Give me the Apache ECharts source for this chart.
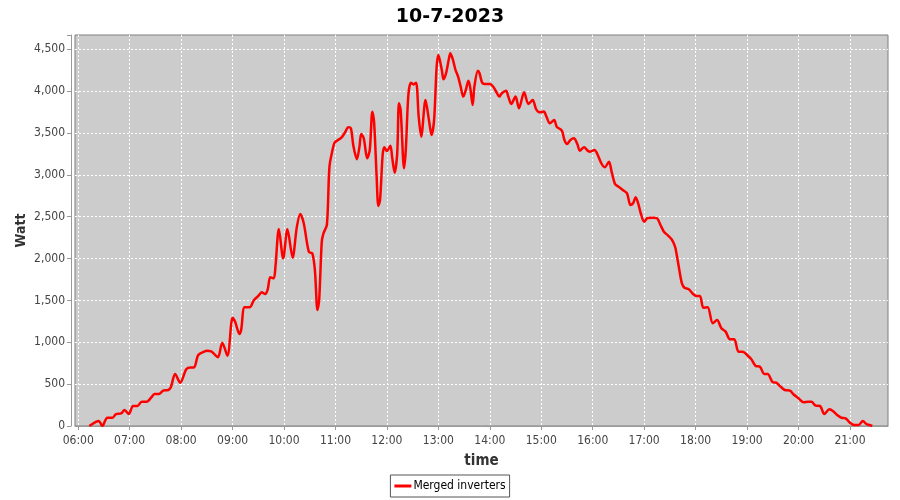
<!DOCTYPE html>
<html>
<head>
<meta charset="utf-8">
<script src="https://cdn.jsdelivr.net/npm/echarts@6/dist/echarts.min.js"></script>
<style>html,body{margin:0;padding:0;background:#fff}#c{width:900px;height:500px}</style>
</head>
<body>
<div id="c"></div>
<script>
const chartTitle = "10-7-2023";
const seriesName = "Merged inverters";
const times = ["06:13","06:24","06:28","06:34","06:40","06:44","06:50","06:54","06:59","07:04","07:09","07:14","07:20","07:25","07:29","07:34","07:39","07:45","07:48","07:53","07:59","08:06","08:11","08:15","08:20","08:27","08:30","08:35","08:39","08:43","08:48","08:54","09:00","09:03","09:08","09:10","09:14","09:20","09:25","09:30","09:34","09:38","09:41","09:44","09:48","09:50","09:54","09:59","10:04","10:10","10:15","10:19","10:23","10:29","10:33","10:36","10:39","10:41","10:44","10:46","10:50","10:53","10:57","10:59","11:03","11:07","11:11","11:15","11:18","11:21","11:25","11:28","11:30","11:33","11:37","11:40","11:43","11:45","11:48","11:50","11:52","11:55","11:57","12:00","12:04","12:06","12:09","12:12","12:14","12:16","12:20","12:22","12:25","12:28","12:31","12:34","12:37","12:40","12:45","12:49","12:52","12:55","12:58","13:00","13:04","13:06","13:09","13:12","13:14","13:17","13:20","13:23","13:26","13:29","13:32","13:35","13:37","13:40","13:42","13:46","13:48","13:51","13:54","14:00","14:04","14:08","14:11","14:14","14:19","14:21","14:25","14:30","14:34","14:40","14:45","14:50","14:54","14:58","15:03","15:06","15:10","15:15","15:18","15:24","15:27","15:30","15:34","15:38","15:42","15:45","15:50","15:54","15:57","16:02","16:05","16:10","16:14","16:19","16:22","16:26","16:30","16:35","16:40","16:44","16:47","16:50","16:53","16:56","17:00","17:04","17:10","17:15","17:19","17:23","17:27","17:32","17:36","17:38","17:41","17:44","17:47","17:52","17:57","18:01","18:05","18:09","18:14","18:20","18:25","18:30","18:35","18:40","18:45","18:50","18:55","19:00","19:05","19:10","19:15","19:20","19:24","19:30","19:34","19:39","19:44","19:50","19:54","20:00","20:06","20:11","20:15","20:20","20:25","20:30","20:36","20:41","20:45","20:50","20:55","21:00","21:05","21:10","21:15","21:19","21:23","21:26"];
const watts = [0,60,0,100,100,143,150,190,143,240,240,290,290,338,382,382,422,430,462,621,517,677,700,700,848,888,900,890,856,820,995,840,1294,1246,1099,1147,1418,1418,1505,1553,1597,1577,1633,1776,1764,1903,2353,2003,2349,2011,2381,2532,2421,2078,2063,1863,1386,1505,2200,2302,2401,3097,3317,3384,3416,3444,3504,3568,3556,3337,3186,3337,3488,3436,3198,3297,3754,3635,2978,2628,2700,3237,3329,3285,3348,3217,3026,3257,3855,3775,3078,3297,3954,4100,4080,4100,3700,3456,3894,3655,3476,3655,4292,4432,4252,4141,4213,4372,4452,4372,4252,4173,4053,3934,4014,4125,4053,3834,4053,4244,4213,4101,4085,4085,4053,3981,3934,3974,4005,3954,3846,3934,3795,3986,3846,3894,3783,3747,3755,3695,3616,3655,3575,3528,3416,3369,3416,3436,3369,3289,3329,3289,3277,3297,3257,3138,3090,3157,3038,2891,2859,2819,2779,2640,2660,2732,2660,2541,2440,2484,2488,2481,2401,2321,2282,2230,2142,2043,1863,1704,1652,1633,1577,1553,1553,1413,1418,1227,1266,1167,1127,1036,1036,888,888,848,797,717,709,621,621,522,517,470,430,422,379,331,283,290,290,243,239,143,199,171,131,99,92,39,12,12,60,24,12,0];
const xRange = ["05:56:15", "21:44:20"];
const yMax = 4670;
const yStep = 500;

function ts(s) {
  const p = s.split(":").map(Number);
  return new Date(2023, 6, 10, p[0], p[1], p[2] || 0).getTime();
}
function pad(n) { return (n < 10 ? "0" : "") + n; }
const data = times.map((t, i) => [ts(t), watts[i]]);

const font = "DejaVu Sans";
const cfont = "DejaVu Sans Condensed, DejaVu Sans";
const chart = echarts.init(document.getElementById("c"), null, {renderer: "canvas"});
chart.setOption({
  animation: false,
  backgroundColor: "#ffffff",
  title: {
    text: chartTitle, left: "center", top: 3,
    textStyle: {fontFamily: font, fontSize: 19, fontWeight: "bold", color: "#000"}
  },
  legend: {
    data: [seriesName], left: "center", top: 475,
    padding: [5, 4], borderColor: "#555", borderWidth: 1,
    itemWidth: 17, itemHeight: 3, itemGap: 4, icon: "rect",
    textStyle: {fontFamily: cfont, fontSize: 12, color: "#000", padding: [0, 0, 0, -3]}
  },
  grid: {
    left: 75, right: 12, top: 35, bottom: 74,
    show: true, backgroundColor: "#cccccc", borderColor: "#7f7f7f", borderWidth: 1,
    containLabel: false
  },
  xAxis: {
    type: "time", min: ts(xRange[0]), max: ts(xRange[1]),
    minInterval: 3600000, maxInterval: 3600000,
    offset: 4,
    name: "time", nameLocation: "middle", nameGap: 24, nameMoveOverlap: false,
    nameTextStyle: {fontFamily: cfont, fontSize: 15, fontWeight: "bold", color: "#333"},
    axisLine: {show: true, lineStyle: {color: "#999", width: 1}},
    axisTick: {show: true, length: 4, lineStyle: {color: "#999"}},
    axisLabel: {
      fontFamily: cfont, fontSize: 12, color: "#444", margin: 5,
      hideOverlap: false,
      formatter: function (v) {
        const d = new Date(v);
        if (d.getMinutes() !== 0 || d.getSeconds() !== 0) return "";
        return pad(d.getHours()) + ":" + pad(d.getMinutes());
      }
    },
    splitLine: {show: true, showMinLine: false, showMaxLine: false,
      lineStyle: {color: "#ffffff", type: [2, 2], width: 1}}
  },
  yAxis: {
    type: "value", min: 0, max: yMax, interval: yStep,
    offset: 4,
    name: "Watt", nameLocation: "middle", nameGap: 43, nameRotate: 90, nameMoveOverlap: false,
    nameTextStyle: {fontFamily: cfont, fontSize: 14, fontWeight: "bold", color: "#333"},
    axisLine: {show: true, lineStyle: {color: "#999", width: 1}},
    axisTick: {show: true, length: 4, lineStyle: {color: "#999"}},
    axisLabel: {
      fontFamily: cfont, fontSize: 12, color: "#444", margin: 6,
      formatter: function (v) {
        if (v % yStep !== 0) return "";
        return String(v).replace(/\B(?=(\d{3})+(?!\d))/g, ",");
      }
    },
    splitLine: {show: true, showMaxLine: false,
      lineStyle: {color: "#ffffff", type: [2, 2], width: 1}}
  },
  series: [{
    name: seriesName, type: "line", data: data,
    smooth: 0.3, showSymbol: false, symbol: "none",
    lineStyle: {color: "#ff0000", width: 2.5},
    itemStyle: {color: "#ff0000"}
  }]
});
</script>
</body>
</html>
